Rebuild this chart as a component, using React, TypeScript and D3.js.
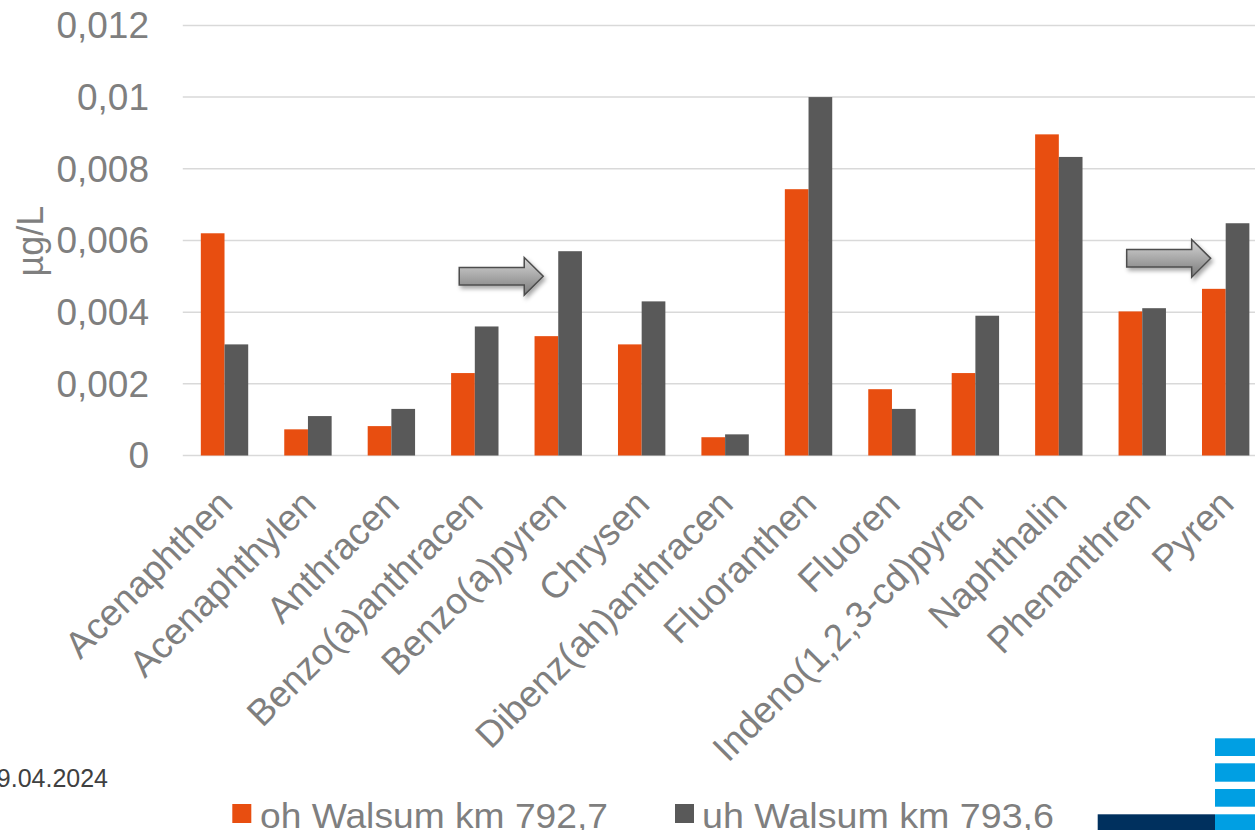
import React from "react";
import * as d3 from "d3";

const categories = [
  "Acenaphthen",
  "Acenaphthylen",
  "Anthracen",
  "Benzo(a)anthracen",
  "Benzo(a)pyren",
  "Chrysen",
  "Dibenz(ah)anthracen",
  "Fluoranthen",
  "Fluoren",
  "Indeno(1,2,3-cd)pyren",
  "Naphthalin",
  "Phenanthren",
  "Pyren",
];

const ohWalsum = [0.0062, 0.00073, 0.00082, 0.0023, 0.00333, 0.0031, 0.00051, 0.00743, 0.00185, 0.0023, 0.00896, 0.00402, 0.00465];
const uhWalsum = [0.0031, 0.0011, 0.0013, 0.0036, 0.0057, 0.0043, 0.00059, 0.01, 0.0013, 0.0039, 0.00833, 0.00411, 0.00648];

const seriesNames = ["oh Walsum km 792,7", "uh Walsum km 793,6"];
const seriesColors = ["#E84E10", "#595959"];

const yTicks = [0, 0.002, 0.004, 0.006, 0.008, 0.01, 0.012];
const yTitle = "µg/L";
const dateText = "09.04.2024";

// annotation arrows pointing at the second series bar
const arrowCategories = ["Benzo(a)pyren", "Pyren"];
const arrowValues = [0.005, 0.0055];

const W = 1255;
const H = 830;
const FONT = "'Liberation Sans', Arial, Helvetica, sans-serif";

export default function App() {
  const x = d3
    .scaleBand<string>()
    .domain(categories)
    .range([182.8, 1267.4])
    .paddingInner(0.432)
    .paddingOuter(0.216);
  const sub = d3
    .scaleBand<number>()
    .domain([0, 1])
    .range([0, x.bandwidth()]);
  const y = d3.scaleLinear().domain([0, 0.012]).range([455.5, 25.4]);

  const fmt = (v: number) => String(+v.toFixed(4)).replace(".", ",");
  const series = [ohWalsum, uhWalsum];

  const arrowPath =
    "M -84 -8.75 L -19 -8.75 L -19 -18.8 L 0 0 L -19 18.8 L -19 8.75 L -84 8.75 Z";

  return (
    <svg
      width={W}
      height={H}
      style={{ position: "absolute", left: 0, top: 0, background: "#fff" }}
      fontFamily={FONT}
    >
      <defs>
        <linearGradient id="arrowGrad" x1="0" y1="0" x2="0" y2="1">
          <stop offset="0" stopColor="#d6d6d6" />
          <stop offset="0.5" stopColor="#a8a8a8" />
          <stop offset="1" stopColor="#7a7a7a" />
        </linearGradient>
        <filter id="shadow" x="-20%" y="-40%" width="150%" height="200%">
          <feDropShadow dx="2" dy="3" stdDeviation="2" floodColor="#000" floodOpacity="0.35" />
        </filter>
      </defs>

      {/* gridlines */}
      {yTicks.map((t) => (
        <line
          key={"g" + t}
          x1={182.8}
          x2={W}
          y1={y(t)}
          y2={y(t)}
          stroke="#D9D9D9"
          strokeWidth={1.5}
        />
      ))}

      {/* y tick labels */}
      {yTicks.map((t) => (
        <text
          key={"t" + t}
          x={149}
          y={y(t)}
          dy="0.35em"
          textAnchor="end"
          fontSize={37}
          fill="#7F7F7F"
        >
          {fmt(t)}
        </text>
      ))}

      {/* y title */}
      <text
        transform={`translate(43, 241) rotate(-90)`}
        textAnchor="middle"
        fontSize={36}
        fill="#7F7F7F"
      >
        {yTitle}
      </text>

      {/* bars */}
      {series.map((vals, si) =>
        vals.map((v, i) => {
          const bx = (x(categories[i]) as number) + (sub(si) as number);
          return (
            <rect
              key={`b${si}-${i}`}
              x={bx}
              y={y(v)}
              width={sub.bandwidth()}
              height={y(0) - y(v)}
              fill={seriesColors[si]}
            />
          );
        })
      )}

      {/* x labels */}
      {categories.map((c) => {
        const cx = (x(c) as number) + x.bandwidth() / 2;
        return (
          <text
            key={"x" + c}
            transform={`translate(${cx + 10}, 506) rotate(-45)`}
            textAnchor="end"
            fontSize={37}
            fill="#7F7F7F"
          >
            {c}
          </text>
        );
      })}

      {/* arrows */}
      {arrowCategories.map((c, i) => {
        const tipX = (x(c) as number) + (sub(1) as number) - 15;
        const tipY = y(arrowValues[i]);
        return (
          <path
            key={"a" + c}
            d={arrowPath}
            transform={`translate(${tipX}, ${tipY})`}
            fill="url(#arrowGrad)"
            stroke="#4d4d4d"
            strokeWidth={1.5}
            strokeLinejoin="miter"
            filter="url(#shadow)"
          />
        );
      })}

      {/* legend */}
      <rect x={232.3} y={804} width={19} height={19} fill={seriesColors[0]} />
      <text
        x={260}
        y={827.5}
        fontSize={34.5}
        fill="#7F7F7F"
        textLength={348}
        lengthAdjust="spacingAndGlyphs"
      >
        {seriesNames[0]}
      </text>
      <rect x={675} y={804} width={19} height={19} fill={seriesColors[1]} />
      <text
        x={702}
        y={827.5}
        fontSize={34.5}
        fill="#7F7F7F"
        textLength={352}
        lengthAdjust="spacingAndGlyphs"
      >
        {seriesNames[1]}
      </text>

      {/* date */}
      <text x={108} y={786.5} textAnchor="end" fontSize={25} fill="#404040">
        {dateText}
      </text>

      {/* logo */}
      <rect x={1215} y={738.3} width={40} height={17.7} fill="#009FE3" />
      <rect x={1215} y={763.3} width={40} height={18.4} fill="#009FE3" />
      <rect x={1215} y={789} width={40} height={17.7} fill="#009FE3" />
      <rect x={1215} y={814.3} width={40} height={16} fill="#009FE3" />
      <rect x={1097.7} y={814.3} width={117.3} height={16} fill="#00305E" />
    </svg>
  );
}
